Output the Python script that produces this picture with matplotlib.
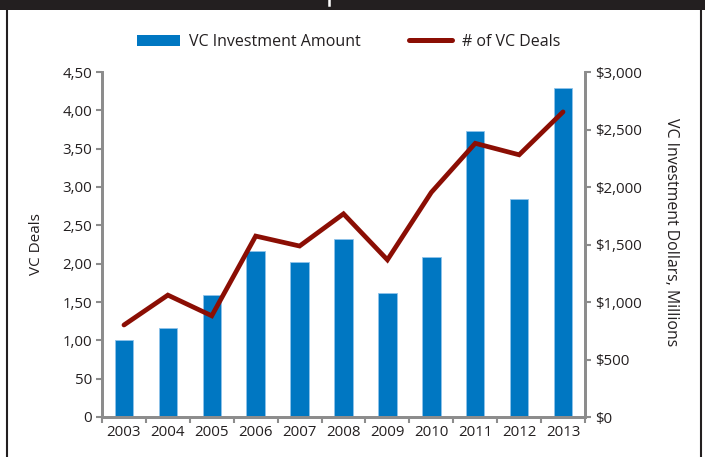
import matplotlib
matplotlib.use("Agg")
import matplotlib.pyplot as plt
from matplotlib.patches import Rectangle, Patch
from matplotlib.lines import Line2D
import numpy as np

plt.rcParams['font.family'] = ['Open Sans', 'DejaVu Sans']

years = ['2003', '2004', '2005', '2006', '2007', '2008', '2009', '2010', '2011', '2012', '2013']
investment = [670, 775, 1060, 1445, 1350, 1545, 1080, 1390, 2485, 1895, 2860]
deals = [120, 159, 132, 236, 223, 265, 205, 293, 357, 342, 398]

left_ticks = [0, 50, 100, 150, 200, 250, 300, 350, 400, 450]
left_labels = ['0', '50', '1,00', '1,50', '2,00', '2,50', '3,00', '3,50', '4,00', '4,50']
right_ticks = [0, 500, 1000, 1500, 2000, 2500, 3000]
right_labels = ['$0', '$500', '$1,000', '$1,500', '$2,000', '$2,500', '$3,000']

bar_color = '#0077c2'
line_color = '#8b0e04'
spine_color = '#8c8c8c'
text_color = '#231f20'

W, H = 705, 457
fig = plt.figure(figsize=(W / 100, H / 100), dpi=100)

# black title band (title itself is cropped off) and frame lines
fig.patches.append(Rectangle((0, 1 - 10 / H), 1, 10 / H, transform=fig.transFigure,
                             facecolor='#231f20', edgecolor='none'))
fig.add_artist(Line2D([329 / W, 329 / W], [1 - 5 / H, 1], color='white', lw=1.8))
fig.add_artist(Line2D([7 / W, 7 / W], [0, 1 - 10 / H], color='#231f20', lw=1.5))
fig.add_artist(Line2D([701 / W, 701 / W], [0, 1 - 10 / H], color='#231f20', lw=1.5))

ax = fig.add_axes([102 / W, 1 - 417 / H, (585 - 102) / W, (417 - 72) / H])
ax2 = ax.twinx()

x = np.arange(len(years))
ax2.bar(x, investment, width=0.42, color=bar_color, edgecolor='#8fc3ea', linewidth=0.6, zorder=2)
ax.plot(x, deals, color=line_color, lw=3.4, solid_capstyle='round', solid_joinstyle='miter', zorder=3)

ax.set_zorder(ax2.get_zorder() + 1)
ax.patch.set_visible(False)

ax.set_xlim(-0.5, len(years) - 0.5)
ax.set_ylim(0, 450)
ax2.set_ylim(0, 3000)

ax.set_xticks(np.arange(-0.5, len(years), 1.0))
ax.set_xticklabels([])
ax.set_xticks(x, minor=True)
ax.set_xticklabels(years, minor=True)
ax.tick_params(axis='x', which='major', length=4, width=1.5, color=spine_color, direction='out')
ax.tick_params(axis='x', which='minor', length=0, pad=6, labelsize=10.8, labelcolor=text_color)

ax.set_yticks(left_ticks)
ax.set_yticklabels(left_labels)
ax.tick_params(axis='y', length=4, width=1.5, color=spine_color, labelsize=10.8,
               labelcolor=text_color, pad=3)
ax2.set_yticks(right_ticks)
ax2.set_yticklabels(right_labels)
ax2.tick_params(axis='y', length=4, width=1.5, color=spine_color, labelsize=10.8,
                labelcolor=text_color, pad=3)

for a in (ax, ax2):
    a.spines['top'].set_visible(False)
    for side in ('left', 'right', 'bottom'):
        a.spines[side].set_color(spine_color)
        a.spines[side].set_linewidth(2)

ax.set_ylabel('VC Deals', fontsize=11, color=text_color, labelpad=13)
ax2.set_ylabel('VC Investment Dollars, Millions', fontsize=11.4, color=text_color,
               rotation=-90, labelpad=27)
ax2.yaxis.label.set_y(0.535)

handles = [Patch(facecolor=bar_color, edgecolor='none', label='VC Investment Amount'),
           Line2D([], [], color=line_color, lw=3.6, solid_capstyle='round', label='# of VC Deals')]
ax.legend(handles=handles, loc='center', bbox_to_anchor=(0.51, 1 + 30 / 345), ncol=2,
          frameon=False, fontsize=11.5, handlelength=2.7, handleheight=0.7,
          columnspacing=3.0, handletextpad=0.6, labelcolor=text_color)

fig.savefig('out.png', dpi=100, facecolor='white')
